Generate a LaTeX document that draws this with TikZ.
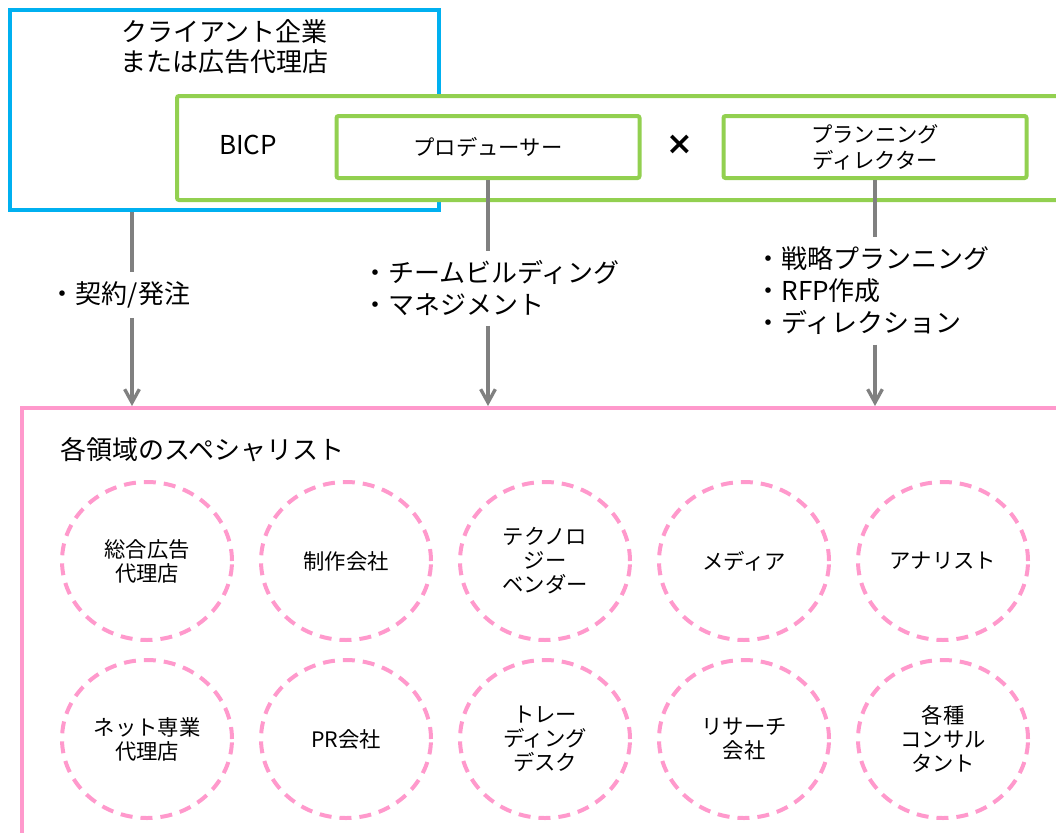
\documentclass[tikz,border=0pt]{standalone}
\usepackage{fontspec}
\setmainfont{Noto Sans CJK JP}
\newfontfamily\crossfont{DejaVu Sans}
\usetikzlibrary{positioning,shapes.geometric,arrows.meta}

\definecolor{clientblue}{HTML}{00B0F0}
\definecolor{bicpgreen}{HTML}{92D050}
\definecolor{specpink}{HTML}{FF99CC}
\definecolor{flowgray}{HTML}{808080}

\begin{document}
\begin{tikzpicture}[x=0.75pt,y=-0.75pt,
   every node/.style={inner sep=0pt},
   big/.style={font=\fontsize{19.5}{22.5}\selectfont, align=center},
   clientbox/.style={draw=clientblue, line width=3pt, minimum width=321.75pt, minimum height=150pt},
   bicpbox/.style={draw=bicpgreen, fill=white, line width=3pt, rounded corners=1.5pt},
   rolebox/.style={bicpbox, minimum width=227.25pt, minimum height=46.5pt, align=center, font=\fontsize{16}{19.5}\selectfont},
   specbox/.style={draw=specpink, line width=3pt, minimum width=789.75pt, minimum height=327.75pt},
   member/.style={ellipse, draw=specpink, line width=3pt, dash pattern=on 9pt off 6pt,
                  minimum width=127.5pt, minimum height=118.5pt, align=center, font=\fontsize{16}{18}\selectfont},
   task/.style={inner ysep=7pt, align=left, font=\fontsize{19.5}{24}\selectfont},
   flow/.style={draw=flowgray, line width=2.5pt},
   tip/.style={-{Straight Barb[length=10pt,width=11pt]}}]
  \useasboundingbox (0,0) rectangle (1056,832);
  \clip (0,0) rectangle (1056,832);

  % client side
  \node[clientbox] (client) at (224.5,110) {};
  \node[big] (clienttxt) at (224.5,47) {クライアント企業\\または広告代理店};

  % BICP
  \node[bicpbox, minimum width=673.5pt, minimum height=78pt] (bicp) at (626,148) {};
  \node[big] (bicptxt) at (248,145) {BICP};
  \node[rolebox] (producer) at (488,147) {プロデューサー};
  \node[rolebox] (planner) at (875,147) {プランニング\\ディレクター};
  \node[font={\fontsize{24}{24}\crossfont\bfseries}] (times) at (680,145) {×};

  % specialists
  \node[specbox] (spec) at (548.5,626.5) {};
  \node[big, anchor=west] (spectitle) at (60,450) {各領域のスペシャリスト};

  \foreach \name/\txt [count=\i from 0] in {gen/{総合広告\\代理店}, prod/制作会社,
      tech/{テクノロ\\ジー\\ベンダー}, media/メディア, analyst/アナリスト}
    \node[member] (\name) at (147+199*\i,561) {\txt};
  \foreach \name/\txt [count=\i from 0] in {net/{ネット専業\\代理店}, pr/PR会社,
      trade/{トレー\\ディング\\デスク}, research/{リサーチ\\会社}, consult/{各種\\コンサル\\タント}}
    \node[member] (\name) at (147+199*\i,739) {\txt};

  % roles
  \coordinate (order) at (132,0);
  \node[task] (contract) at (120,295) {・契約/発注};
  \node[task] (team) at (491,288.5) {・チームビルディング\\・マネジメント};
  \node[task] (strategy) at (872.5,291) {・戦略プランニング\\・RFP作成\\・ディレクション};

  \draw[flow] (client.south -| order) -- (contract.north -| order);
  \draw[flow, tip] (contract.south -| order) -- (spec.north -| order);
  \draw[flow] (producer.south) -- (team.north -| producer.south);
  \draw[flow, tip] (team.south -| producer.south) -- (spec.north -| producer.south);
  \draw[flow] (planner.south) -- (strategy.north -| planner.south);
  \draw[flow, tip] (strategy.south -| planner.south) -- (spec.north -| planner.south);
\end{tikzpicture}
\end{document}
